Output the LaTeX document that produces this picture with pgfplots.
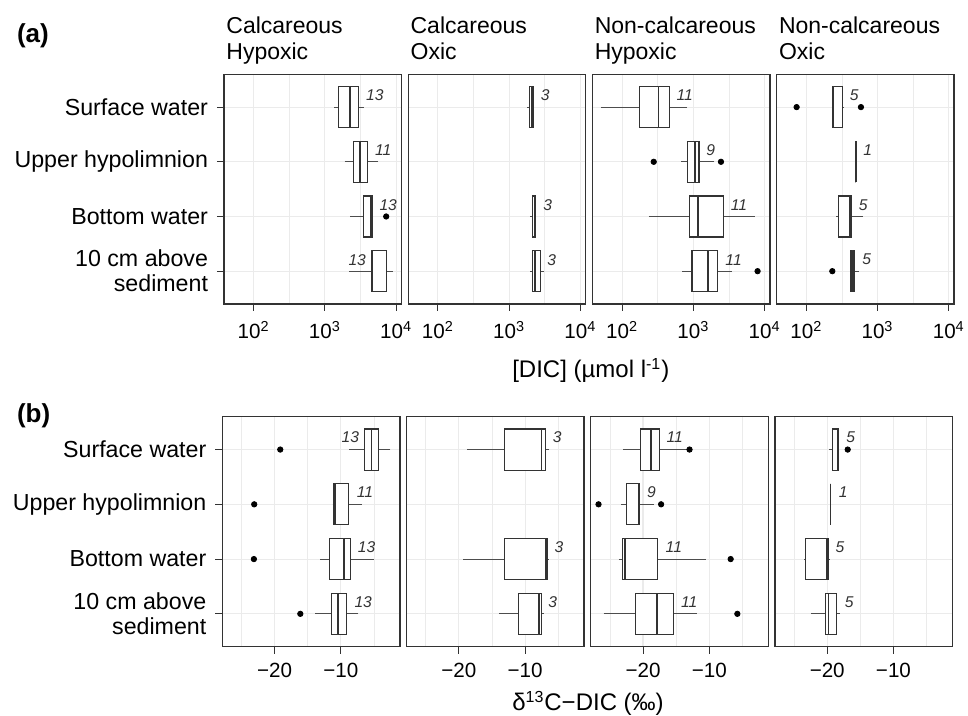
\documentclass[border=0pt]{standalone}
\usepackage{fontspec}
\setmainfont{Liberation Sans}
\usepackage{pgfplots}
\pgfplotsset{compat=1.18}
\usepgfplotslibrary{statistics}
\definecolor{g20}{HTML}{333333}
\definecolor{g30}{HTML}{4D4D4D}
\definecolor{g92}{HTML}{EBEBEB}
\tikzset{nlab/.style={font=\fontsize{7.8}{9}\selectfont\itshape, text=g20, inner sep=0pt}}
\pgfplotsset{
  panel/.style={
    scale only axis, width=88.75pt, anchor=south west,
    ymin=0.4, ymax=4.6, ytick={1,2,3,4}, yticklabels={},
    axis line style={g20, line width=0.7pt},
    tick style={g20, line width=0.5pt},
    tick align=outside, tick pos=left, major tick length=3.5pt, minor tick length=0pt,
    xmajorgrids, xminorgrids, ymajorgrids,
    major grid style={g92, line width=0.55pt},
    minor grid style={g92, line width=0.3pt},
    boxplot/draw direction=x,
    boxplot/box extend=0.75,
    boxplot/whisker extend=0,
    boxplot/every median/.style={line width=0.85pt},
    boxplot/every whisker/.style={g30},
  },
  noy/.style={ytick style={draw=none}},
  firsty/.style={yticklabels={{10 cm above\\sediment},{Bottom water},{Upper hypolimnion},{Surface water}},
    yticklabel style={font=\fontsize{11.6}{12.5}\selectfont, text=black, align=right, inner sep=0pt, anchor=east, xshift=-4.3pt}},
  % DIC panels: x holds log10 of [DIC] (umol/l)
  dic/.style={panel, height=114.85pt, xmin=1.583, xmax=4.075,
    xtick={2,3,4}, minor xtick={2.5,3.5},
    xticklabels={10\textsuperscript{2},10\textsuperscript{3},10\textsuperscript{4}},
    xticklabel style={font=\fontsize{10.3}{12}\selectfont, text=black, inner sep=0pt, anchor=north, yshift=-5pt}},
  d13/.style={panel, height=115pt, xmin=-27.9, xmax=-1.1, xtick={-20,-10},
    minor xtick={-25,-15,-5}, xticklabels={−20,−10},
    xticklabel style={font=\fontsize{10.3}{12}\selectfont, text=black, inner sep=0pt, anchor=north, yshift=-4.5pt}},
  bx/.style={draw=g20, fill=white, line width=0.55pt, solid},
  outl/.style={only marks, mark=*, mark size=1.35pt, black, mark options={solid}},
}
\newcommand{\bp}[6]{\addplot[bx, boxplot prepared={draw position=#1, lower whisker=#2, lower quartile=#3, median=#4, upper quartile=#5, upper whisker=#6}] coordinates {};}
\begin{document}
\begin{tikzpicture}
\path[use as bounding box] (0,0) rectangle (484pt,358pt);
% ---------- (a) DIC (log10 values) ----------
\begin{axis}[dic, firsty, at={(112pt,206pt)}]
\bp{4}{3.131}{3.187}{3.350}{3.477}{3.547}
\bp{3}{3.276}{3.402}{3.491}{3.598}{3.748}
\bp{2}{3.355}{3.537}{3.650}{3.668}{3.668}
\bp{1}{3.341}{3.654}{3.659}{3.860}{3.949}
\addplot[outl] coordinates {(3.860,2)};
\node[nlab] at (axis cs:3.701,4.21) {13};
\node[nlab] at (axis cs:3.818,3.21) {11};
\node[nlab] at (axis cs:3.888,2.21) {13};
\node[nlab] at (axis cs:3.453,1.21) {13};
\end{axis}
\begin{axis}[dic, noy, at={(204.1pt,206pt)}]
\bp{4}{3.257}{3.290}{3.318}{3.346}{3.346}
\bp{2}{3.299}{3.327}{3.360}{3.374}{3.374}
\bp{1}{3.299}{3.332}{3.360}{3.439}{3.495}
\node[nlab] at (axis cs:3.505,4.21) {3};
\node[nlab] at (axis cs:3.542,2.21) {3};
\node[nlab] at (axis cs:3.598,1.21) {3};
\end{axis}
\begin{axis}[dic, noy, at={(296.2pt,206pt)}]
\bp{4}{1.701}{2.238}{2.509}{2.659}{2.911}
\bp{3}{2.827}{2.916}{3.023}{3.079}{3.294}
\bp{2}{2.374}{2.949}{3.065}{3.425}{3.860}
\bp{1}{2.841}{2.981}{3.206}{3.336}{3.537}
\addplot[outl] coordinates {(2.444,3) (3.388,3) (3.902,1)};
\node[nlab] at (axis cs:2.879,4.21) {11};
\node[nlab] at (axis cs:3.243,3.21) {9};
\node[nlab] at (axis cs:3.640,2.21) {11};
\node[nlab] at (axis cs:3.565,1.21) {11};
\end{axis}
\begin{axis}[dic, noy, at={(388.3pt,206pt)}]
\bp{4}{2.370}{2.370}{2.380}{2.511}{2.520}
\bp{3}{2.693}{2.693}{2.693}{2.693}{2.693}
\bp{2}{2.417}{2.454}{2.613}{2.627}{2.799}
\bp{1}{2.623}{2.623}{2.645}{2.669}{2.743}
\addplot[outl] coordinates {(1.864,4) (2.767,4) (2.365,1)};
\node[nlab] at (axis cs:2.673,4.21) {5};
\node[nlab] at (axis cs:2.861,3.21) {1};
\node[nlab] at (axis cs:2.800,2.21) {5};
\node[nlab] at (axis cs:2.847,1.21) {5};
\end{axis}
% ---------- (b) d13C ----------
\begin{axis}[d13, firsty, at={(111.15pt,34.65pt)}]
\bp{4}{-8.76}{-6.37}{-5.37}{-4.33}{-2.54}
\bp{3}{-11.24}{-11.04}{-10.85}{-8.81}{-6.82}
\bp{2}{-13.08}{-11.74}{-9.55}{-8.51}{-4.93}
\bp{1}{-13.83}{-11.39}{-10.45}{-9.10}{-7.36}
\addplot[outl] coordinates {(-19.15,4) (-23.08,3) (-23.13,2) (-16.12,1)};
\node[nlab] at (axis cs:-8.56,4.22) {13};
\node[nlab] at (axis cs:-6.37,3.22) {11};
\node[nlab] at (axis cs:-6.12,2.22) {13};
\node[nlab] at (axis cs:-6.62,1.22) {13};
\end{axis}
\begin{axis}[d13, noy, at={(203.25pt,34.65pt)}]
\bp{4}{-18.74}{-13.17}{-7.54}{-6.88}{-6.33}
\bp{2}{-19.35}{-13.17}{-6.88}{-6.58}{-6.48}
\bp{1}{-13.92}{-11.0}{-7.94}{-7.54}{-7.19}
\node[nlab] at (axis cs:-5.13,4.22) {3};
\node[nlab] at (axis cs:-4.87,2.22) {3};
\node[nlab] at (axis cs:-5.83,1.22) {3};
\end{axis}
\begin{axis}[d13, noy, at={(295.35pt,34.65pt)}]
\bp{4}{-23.03}{-20.40}{-18.84}{-17.58}{-13.33}
\bp{3}{-23.28}{-22.53}{-20.61}{-20.51}{-18.38}
\bp{2}{-23.64}{-23.13}{-22.73}{-17.78}{-10.51}
\bp{1}{-25.96}{-21.16}{-17.88}{-15.45}{-11.87}
\addplot[outl] coordinates {(-12.98,4) (-26.72,3) (-17.27,3) (-6.77,2) (-5.76,1)};
\node[nlab] at (axis cs:-15.20,4.22) {11};
\node[nlab] at (axis cs:-18.74,3.22) {9};
\node[nlab] at (axis cs:-15.35,2.22) {11};
\node[nlab] at (axis cs:-13.03,1.22) {11};
\end{axis}
\begin{axis}[d13, noy, at={(387.45pt,34.65pt)}]
\bp{4}{-19.70}{-19.24}{-18.42}{-18.33}{-18.33}
\bp{3}{-19.49}{-19.49}{-19.49}{-19.49}{-19.49}
\bp{2}{-23.48}{-23.23}{-20.09}{-19.89}{-19.59}
\bp{1}{-22.47}{-20.24}{-19.79}{-18.58}{-18.08}
\addplot[outl] coordinates {(-16.91,4)};
\node[nlab] at (axis cs:-16.45,4.22) {5};
\node[nlab] at (axis cs:-17.6,3.22) {1};
\node[nlab] at (axis cs:-18.08,2.22) {5};
\node[nlab] at (axis cs:-16.67,1.22) {5};
\end{axis}
% ---------- texts ----------
\node[anchor=base west, font=\fontsize{13}{15}\selectfont\bfseries] at (5pt,336.65pt) {(a)};
\node[anchor=base west, font=\fontsize{13}{15}\selectfont\bfseries] at (5pt,146.75pt) {(b)};
\foreach \xx/\la/\lb in {113/Calcareous/Hypoxic, 205.1/Calcareous/Oxic, 297.2/Non-calcareous/Hypoxic, 389.3/Non-calcareous/Oxic}{
  \node[anchor=base west, inner sep=0pt, font=\fontsize{11.5}{13}\selectfont] at (\xx pt,341.35pt) {\la};
  \node[anchor=base west, inner sep=0pt, font=\fontsize{11.5}{13}\selectfont] at (\xx pt,328.35pt) {\lb};
}
\node[anchor=base, inner sep=0pt, font=\fontsize{12}{14}\selectfont] at (295.4pt,169pt) {[DIC] (µmol l\textsuperscript{-1})};
\node[anchor=base, inner sep=0pt, font=\fontsize{12}{14}\selectfont] at (294pt,2.6pt) {δ\textsuperscript{13}C−DIC (‰)};
\end{tikzpicture}
\end{document}
